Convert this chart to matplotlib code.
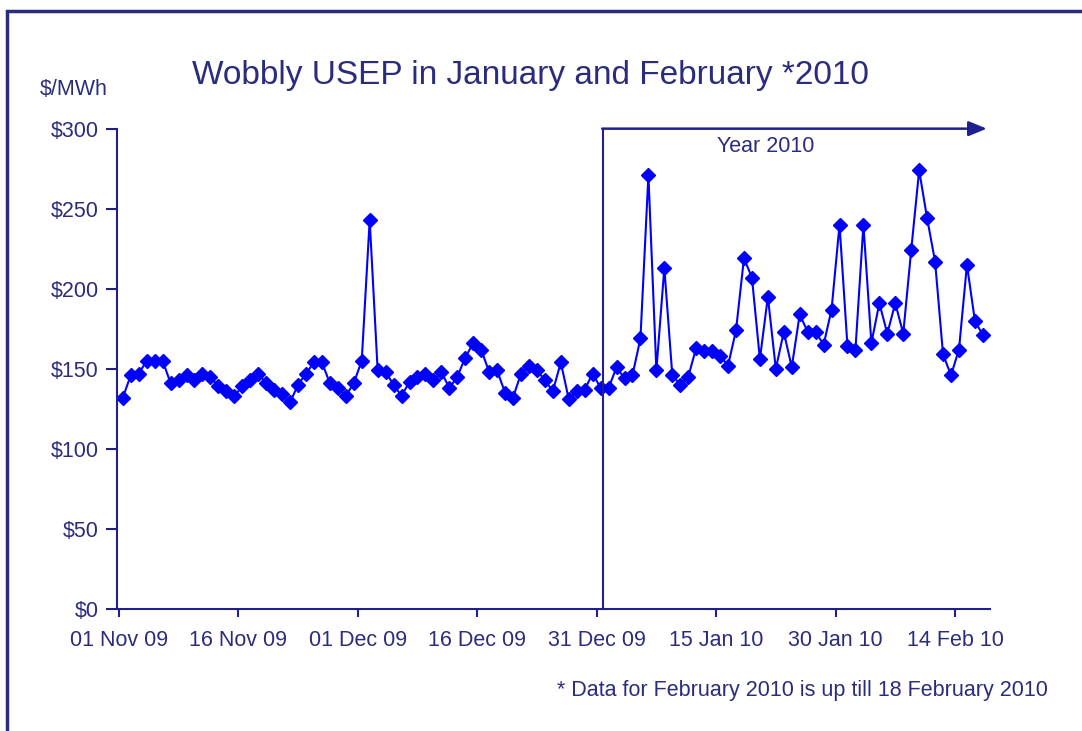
import numpy as np
import matplotlib.pyplot as plt
from matplotlib.patches import Rectangle

plt.rcParams['font.family'] = ['Liberation Sans', 'DejaVu Sans']

# === Daily USEP, $/MWh ===
nov_09 = [132, 146, 147, 155, 155, 155, 141, 143, 146, 143,
          147, 145, 139, 136, 133, 139, 143, 147, 141, 137,
          134, 129, 140, 147, 154, 154, 141, 138, 133, 141]
dec_09 = [155, 243, 149, 148, 140, 133, 142, 145, 147, 143,
          148, 138, 145, 157, 166, 162, 148, 149, 135, 132,
          147, 152, 149, 143, 136, 154, 131, 136, 137, 147, 138]
jan_10 = [138, 151, 144, 146, 169, 271, 149, 213, 146, 140,
          145, 163, 161, 161, 158, 152, 174, 219, 207, 156,
          195, 150, 173, 151, 184, 173, 173, 165, 187, 240, 164]
feb_10 = [162, 240, 166, 191, 172, 191, 172, 224, 274, 244,
          217, 159, 146, 162, 215, 180, 171]

tick_labels = ['01 Nov 09', '16 Nov 09', '01 Dec 09', '16 Dec 09',
               '31 Dec 09', '15 Jan 10', '30 Jan 10', '14 Feb 10']
y_ticks = [0, 50, 100, 150, 200, 250, 300]

navy = '#2b2d7c'
axis_col = '#1f1f8f'

usep = np.array(nov_09 + dec_09 + jan_10 + feb_10)
days = np.arange(len(usep)) + 0.5   # points sit mid-day on the date axis

fig = plt.figure(figsize=(10.82, 7.31), dpi=100)
ax = fig.add_axes([0.108, 0.167, 0.807, 0.657])

ax.plot(days, usep, color='#0000ff', lw=1.5, marker='D', ms=7.2,
        markeredgecolor='#0000ff')

ax.set_xlim(-0.25, 109.4)
ax.set_ylim(0, 300)
ax.set_yticks(y_ticks)
ax.set_yticklabels([f'${v}' for v in y_ticks])
ax.set_xticks(np.arange(0, 106, 15))
ax.set_xticklabels(tick_labels)

for s in ['top', 'right']:
    ax.spines[s].set_visible(False)
for s in ['left', 'bottom']:
    ax.spines[s].set_color(axis_col)
    ax.spines[s].set_linewidth(1.5)
ax.tick_params(axis='both', colors=axis_col, labelcolor=navy,
               labelsize=15.5, width=1.5)
ax.tick_params(axis='y', length=8, pad=5)
ax.tick_params(axis='x', length=6, pad=9)

# === Year 2010 marker ===
x_2010 = 60.8
ax.plot([x_2010, x_2010], [0, 300], color=axis_col, lw=1.5, clip_on=False)
ax.annotate('', xy=(109.0, 300), xytext=(x_2010 - 0.1, 300),
            arrowprops=dict(arrowstyle='-|>,head_length=1.1,head_width=0.45',
                            color=axis_col, lw=1.8, shrinkA=0, shrinkB=0),
            annotation_clip=False)
ax.text(81.2, 289, 'Year 2010', color=navy, fontsize=15.5,
        ha='center', va='center')

# === Titles and notes ===
fig.text(0.49, 0.897, 'Wobbly USEP in January and February *2010',
         color=navy, fontsize=24, ha='center', va='center')
fig.text(0.037, 0.877, '$/MWh', color=navy, fontsize=15.5, ha='left', va='center')
fig.text(0.968, 0.055, '* Data for February 2010 is up till 18 February 2010',
         color=navy, fontsize=15.5, ha='right', va='center')

# frame around the whole picture
fig.patches.append(Rectangle((7 / 1082, -0.2), 1.2, 1.2 - 11 / 731,
                             transform=fig.transFigure, fill=False,
                             edgecolor=navy, lw=2.5))

fig.savefig('out.png', dpi=100)
